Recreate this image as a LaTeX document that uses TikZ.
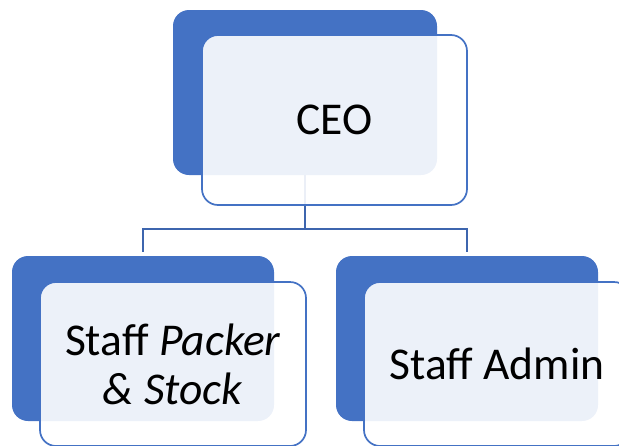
\documentclass[tikz,border=0pt]{standalone}
\usepackage{fontspec}
\setmainfont{Carlito}
\definecolor{accent}{HTML}{4472C4}
\definecolor{connc}{HTML}{3D65AE}
\begin{document}
\begin{tikzpicture}[x=1pt,y=-1pt,
  backbox/.style={rectangle, rounded corners=16pt, fill=accent, draw=none,
    inner sep=0pt, minimum width=264pt, minimum height=165pt},
  frontbox/.style={rectangle, rounded corners=16pt, draw=accent, line width=1.7pt,
    fill=white, fill opacity=0.9, text opacity=1, inner sep=0pt,
    minimum width=265pt, minimum height=168pt, align=center,
    font=\fontsize{45.5}{49}\selectfont},
  conn/.style={draw=connc, line width=1.7pt}]
\useasboundingbox (0,0) rectangle (619,445);
% back boxes
\node[backbox] (ceoB) at (305,92.5) {};
\node[backbox, minimum width=262pt] (leftB) at (143,338.5) {};
\node[backbox, minimum width=262pt] (rightB) at (467,338.5) {};
% connectors
\coordinate (bar) at (305,229);
\draw[conn, shorten >=4pt] (ceoB.south) -- (bar) -| (leftB.north);
\draw[conn, shorten >=4pt] (bar) -| (rightB.north);
% front boxes
\node[frontbox, minimum height=170pt] (ceoF) at (334.5,120) {CEO};
\node[frontbox, minimum width=266pt, minimum height=164pt] (leftF) at (173,364) {Staff \textit{Packer}\\\textit{\& Stock}};
\node[frontbox, minimum width=266pt, minimum height=164pt] (rightF) at (497,364) {Staff Admin};
\end{tikzpicture}
\end{document}
